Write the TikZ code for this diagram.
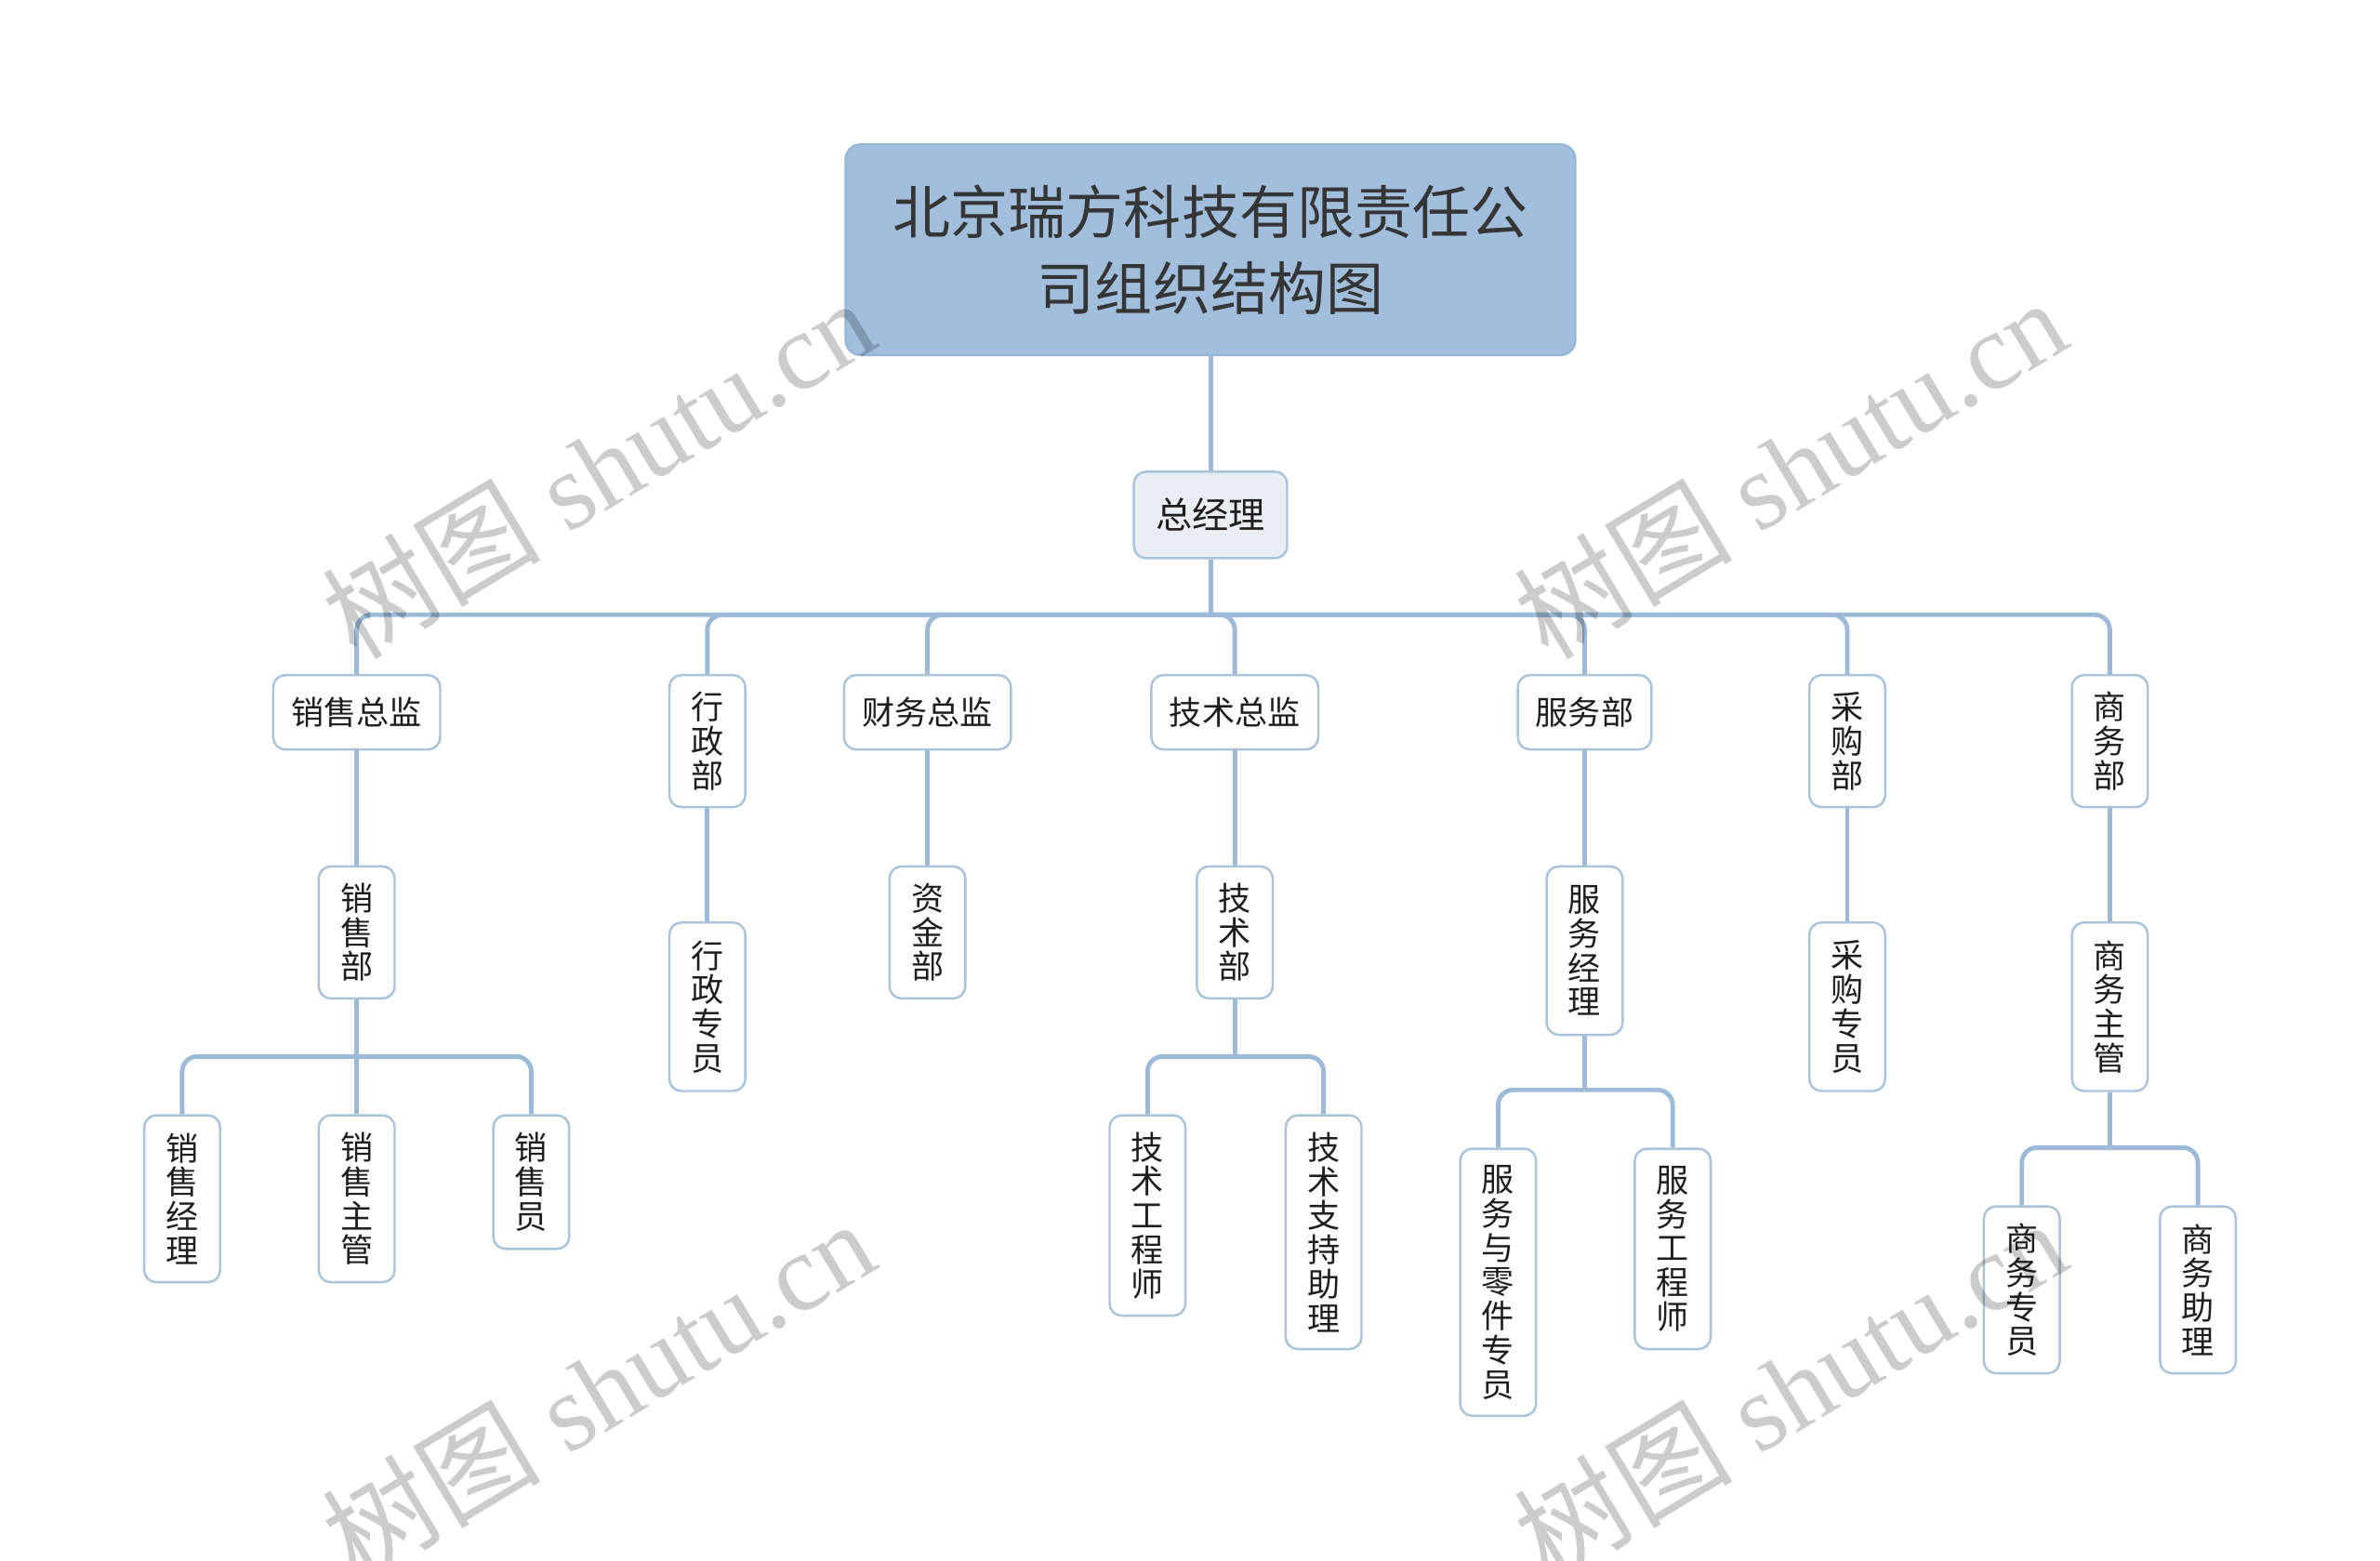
\documentclass[tikz,border=0pt]{standalone}
\usepackage{fontspec}
\setmainfont{Liberation Serif}
\newfontfamily\cjk{Noto Sans CJK SC}
\definecolor{linec}{HTML}{9CBAD8}
\definecolor{bordc}{HTML}{A9C3DB}
\definecolor{rootfill}{HTML}{A1BFDC}
\definecolor{rootbord}{HTML}{95B5D5}
\definecolor{gmfill}{HTML}{E8EEF4}
\definecolor{txtc}{HTML}{1E1E1E}
\begin{document}
\begin{tikzpicture}[x=1pt,y=-1pt,
  box/.style={draw=bordc, line width=1.5pt, fill=white, rounded corners=8pt, inner sep=0pt,
    font=\cjk\fontsize{21.5}{22.5}\selectfont, text=txtc, align=center, anchor=north},
  hbox/.style={box, minimum width=#1, minimum height=49},
  vbox/.style={box, minimum width=50, minimum height=#1},
  conn/.style={draw=linec, line width=3pt, rounded corners=10pt},
  wm/.style={font=\fontsize{72}{76}\selectfont, text=black, text opacity=0.2, inner sep=0pt}]
\useasboundingbox (0,0) rectangle (1568,1028);

% root and general manager
\node[draw=rootbord, line width=1.2pt, fill=rootfill, rounded corners=10pt, minimum width=481, minimum height=139,
  font=\cjk\fontsize{38}{50}\selectfont, text=txtc!90, align=center, inner sep=0pt] (root) at (797.5,164.5)
  {北京瑞方科技有限责任公\\司组织结构图};
\node[box, fill=gmfill, minimum width=101, minimum height=57, font=\cjk\fontsize{24}{26}\selectfont] (gm) at (797.5,310) {总经理};

% level 2
\node[hbox=110] (sxzj) at (235,444) {销售总监};
\node[vbox=87] (xzb) at (466,444) {行\\政\\部};
\node[hbox=110] (cwzj) at (611,444) {财务总监};
\node[hbox=110] (jszj) at (813.5,444) {技术总监};
\node[hbox=88] (fwb) at (1044,444) {服务部};
\node[vbox=87] (cgb) at (1217,444) {采\\购\\部};
\node[vbox=87] (swb) at (1390,444) {商\\务\\部};

% level 3
\node[vbox=87] (xsb) at (235,570) {销\\售\\部};
\node[vbox=111] (xzzy) at (466,607) {行\\政\\专\\员};
\node[vbox=87] (zjb) at (611,570) {资\\金\\部};
\node[vbox=87] (jsb) at (813.5,570) {技\\术\\部};
\node[vbox=111] (fwjl) at (1044,570) {服\\务\\经\\理};
\node[vbox=111] (cgzy) at (1217,607) {采\\购\\专\\员};
\node[vbox=111] (swzg) at (1390,607) {商\\务\\主\\管};

% level 4
\node[vbox=110] (xsjl) at (120,734) {销\\售\\经\\理};
\node[vbox=110] (xszg) at (235,734) {销\\售\\主\\管};
\node[vbox=88] (xsy) at (350,734) {销\\售\\员};
\node[vbox=132] (jsgcs) at (756,734) {技\\术\\工\\程\\师};
\node[vbox=154] (jszc) at (872,734) {技\\术\\支\\持\\助\\理};
\node[vbox=176] (fwlj) at (987,756) {服\\务\\与\\零\\件\\专\\员};
\node[vbox=132] (fwgcs) at (1102,756) {服\\务\\工\\程\\师};
\node[vbox=110] (swzy) at (1332,794) {商\\务\\专\\员};
\node[vbox=110] (swzl) at (1448,794) {商\\务\\助\\理};

% bus coordinates
\coordinate (b0) at (797.5,405);
\coordinate (b1) at (235,696);
\coordinate (b2) at (813.5,696);
\coordinate (b3) at (1044,718);
\coordinate (b4) at (1390,756);

% connectors
\draw[conn] (root.south) -- (gm.north);
\draw[conn] (gm.south) -- (b0);
\foreach \c in {sxzj,xzb,cwzj,jszj,fwb,cgb,swb} \draw[conn] (b0) -| (\c.north);
\draw[conn] (sxzj.south) -- (xsb.north);
\draw[conn] (xzb.south) -- (xzzy.north);
\draw[conn] (cwzj.south) -- (zjb.north);
\draw[conn] (jszj.south) -- (jsb.north);
\draw[conn] (fwb.south) -- (fwjl.north);
\draw[conn] (cgb.south) -- (cgzy.north);
\draw[conn] (swb.south) -- (swzg.north);
\draw[conn] (xsb.south) -- (b1);
\foreach \c in {xsjl,xszg,xsy} \draw[conn] (b1) -| (\c.north);
\draw[conn] (jsb.south) -- (b2);
\foreach \c in {jsgcs,jszc} \draw[conn] (b2) -| (\c.north);
\draw[conn] (fwjl.south) -- (b3);
\foreach \c in {fwlj,fwgcs} \draw[conn] (b3) -| (\c.north);
\draw[conn] (swzg.south) -- (b4);
\foreach \c in {swzy,swzl} \draw[conn] (b4) -| (\c.north);

% watermarks
\node[wm, rotate=31] (wm1) at (394,308) {{\cjk 树图} shutu.cn};
\node[wm, rotate=31] (wm2) at (1179,308) {{\cjk 树图} shutu.cn};
\node[wm, rotate=31] (wm3) at (394,915) {{\cjk 树图} shutu.cn};
\node[wm, rotate=31] (wm4) at (1179,915) {{\cjk 树图} shutu.cn};
\end{tikzpicture}
\end{document}
